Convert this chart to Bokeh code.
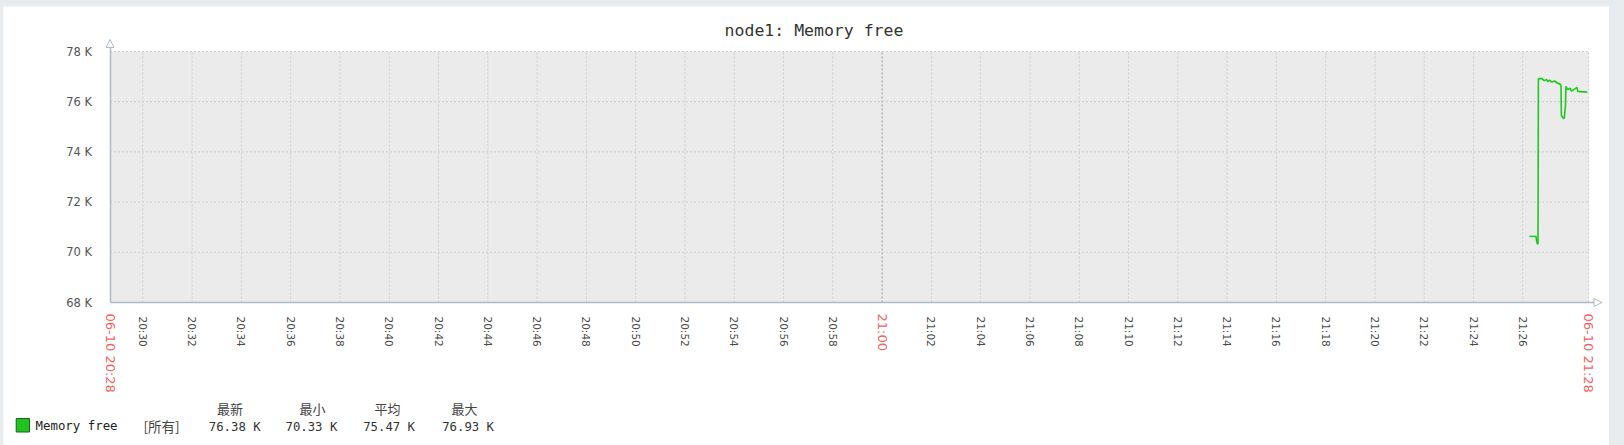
import math
from bokeh.plotting import figure
from bokeh.models import (Range1d, FixedTicker, Label, Arrow, NormalHead,
                          BoxAnnotation, LinearAxis)
from bokeh.embed import file_html
from bokeh.resources import INLINE

# ---------------- data ----------------
sample_times = ["21:26:16", "21:26:32", "21:26:35", "21:26:37", "21:26:38",
                "21:26:46", "21:26:52", "21:26:58", "21:27:01", "21:27:05",
                "21:27:11", "21:27:16", "21:27:20", "21:27:23", "21:27:30",
                "21:27:33", "21:27:34", "21:27:38", "21:27:41", "21:27:44",
                "21:27:45", "21:27:48", "21:27:51", "21:27:55", "21:27:58",
                "21:28:02", "21:28:07", "21:28:12", "21:28:14", "21:28:37"]
memory_free_k = [70.64, 70.63, 70.35, 70.33, 76.91,
                 76.93, 76.84, 76.88, 76.80, 76.86,
                 76.78, 76.82, 76.80, 76.75, 76.71,
                 76.65, 75.45, 75.36, 75.33, 75.85,
                 76.61, 76.51, 76.49, 76.54, 76.43,
                 76.46, 76.51, 76.57, 76.41, 76.38]

y_ticks = [68, 70, 72, 74, 76, 78]
x_tick_labels = ["20:30", "20:32", "20:34", "20:36", "20:38", "20:40", "20:42",
                 "20:44", "20:46", "20:48", "20:50", "20:52", "20:54", "20:56",
                 "20:58", "21:00", "21:02", "21:04", "21:06", "21:08", "21:10",
                 "21:12", "21:14", "21:16", "21:18", "21:20", "21:22", "21:24",
                 "21:26"]
start_time = "20:28:40"
end_time = "21:28:40"
red_tick_times = ["20:28:40", "21:00:00", "21:28:40"]
red_tick_labels = ["06-10 20:28", "21:00", "06-10 21:28"]

title_text = "node1: Memory free"
series_name = "Memory free"
legend_scope = "[所有]"
legend_headers = ["最新", "最小", "平均", "最大"]
legend_values = ["76.38 K", "70.33 K", "75.47 K", "76.93 K"]


def to_min(t):
    parts = [int(v) for v in t.split(":")]
    h, m = parts[0], parts[1]
    s = parts[2] if len(parts) > 2 else 0
    return (h - 20) * 60 + m + s / 60.0


xs = [to_min(t) for t in sample_times]
x0, x1 = to_min(start_time), to_min(end_time)
y0, y1 = y_ticks[0], y_ticks[-1]
tick_pos = [to_min(t) for t in x_tick_labels]
mid_time = to_min("21:00")

# ---------------- geometry ----------------
PAGE_X, PAGE_Y = 3, 6          # white panel offset on the page
W, H = 1606, 439
# page pixels of start / end time and of 68 K / 78 K
X_START, X_END = 109.5, 1588.0
Y_BOTTOM, Y_TOP = 302.0, 51.0
PX0, PX1 = X_START - PAGE_X, X_END - PAGE_X
PY0, PY1 = Y_BOTTOM - PAGE_Y, Y_TOP - PAGE_Y
sx = (PX1 - PX0) / (x1 - x0)
sy = (PY0 - PY1) / (y1 - y0)
xr = Range1d(x0 - PX0 / sx, x0 + (W - PX0) / sx)
yr = Range1d(y0 - (H - PY0) / sy, y1 + PY1 / sy)


def px_x(X):
    return x0 + (X - PAGE_X - PX0) / sx


def py_y(Y):
    return y0 + (PY0 - (Y - PAGE_Y)) / sy


AXIS = "#aebbc4"
GRID = "#c6ced4"

p = figure(width=W, height=H, min_border=0, x_range=xr, y_range=yr,
           x_axis_location=None, output_backend="svg", toolbar_location=None,
           background_fill_color="white", border_fill_color="white")
p.outline_line_color = None
p.xgrid.visible = False
p.ygrid.visible = False

# plot area background
p.add_layout(BoxAnnotation(left=x0, right=x1, bottom=y0, top=y1,
                           fill_color="#ebebeb", fill_alpha=1,
                           line_color=None, level="underlay"))

# grid lines (dashed)
gx = [t for t in tick_pos if t != mid_time] + [x1]
p.segment(x0=gx, y0=[y0] * len(gx), x1=gx, y1=[y1] * len(gx),
          line_color=GRID, line_dash="2 2", line_width=1)
p.segment(x0=[mid_time], y0=[y0], x1=[mid_time], y1=[y1],
          line_color="#8f999f", line_dash="2 2", line_width=1)
gy = y_ticks[1:]
p.segment(x0=[x0] * len(gy), y0=gy, x1=[x1] * len(gy), y1=gy,
          line_color=GRID, line_dash="2 2", line_width=1)

# data line
p.line(xs, memory_free_k, line_color="#1ec81e", line_width=1.6)

# y axis
yax = p.yaxis[0]
yax.fixed_location = x0
yax.bounds = (y0, py_y(45))
yax.ticker = FixedTicker(ticks=y_ticks)
yax.major_label_overrides = {v: f"{v} K" for v in y_ticks}
yax.major_tick_line_color = None
yax.minor_tick_line_color = None
yax.axis_line_color = AXIS
yax.axis_line_width = 1.5
yax.major_label_standoff = 12
yax.major_label_text_font = "DejaVu Sans"
yax.major_label_text_font_size = "11.5px"
yax.major_label_text_color = "#555555"

# x axis: grey time labels
gax = LinearAxis(fixed_location=y0, ticker=FixedTicker(ticks=tick_pos))
gax.major_label_overrides = {pos: ("" if pos == mid_time else lab)
                             for pos, lab in zip(tick_pos, x_tick_labels)}
gax.major_label_orientation = "vertical"
gax.major_tick_line_color = None
gax.minor_tick_line_color = None
gax.axis_line_color = None
gax.major_label_standoff = 8
gax.major_label_text_font = "DejaVu Sans"
gax.major_label_text_font_size = "10.5px"
gax.major_label_text_color = "#4a4a4a"
p.add_layout(gax, "below")

# x axis: red period labels and axis line
red_pos = [to_min(t) for t in red_tick_times]
rax = LinearAxis(fixed_location=y0, ticker=FixedTicker(ticks=red_pos),
                 bounds=(x0, px_x(1594)))
rax.major_label_overrides = {pos: lab for pos, lab in zip(red_pos, red_tick_labels)}
rax.major_label_orientation = "vertical"
rax.major_tick_line_color = None
rax.minor_tick_line_color = None
rax.axis_line_color = AXIS
rax.axis_line_width = 1.5
rax.major_label_standoff = 5
rax.major_label_text_font = "DejaVu Sans"
rax.major_label_text_font_size = "13px"
rax.major_label_text_color = "#f06262"
p.add_layout(rax, "below")

# axis arrows
p.add_layout(Arrow(x_start=x0, y_start=py_y(46), x_end=x0, y_end=py_y(39),
                   line_color=AXIS, line_width=1.5,
                   end=NormalHead(size=8, fill_color="white",
                                  line_color=AXIS, line_width=1)))
p.add_layout(Arrow(x_start=px_x(1592), y_start=y0, x_end=px_x(1601.5), y_end=y0,
                   line_color=AXIS, line_width=1.5,
                   end=NormalHead(size=8, fill_color="white",
                                  line_color=AXIS, line_width=1)))

# title
p.add_layout(Label(x=px_x(813.5), y=py_y(30), text=title_text,
                   text_align="center", text_baseline="middle",
                   text_font="DejaVu Sans Mono", text_font_size="16.5px",
                   text_color="#333333"))

# legend
p.add_layout(BoxAnnotation(left=px_x(15.7), right=px_x(29), bottom=py_y(431.5),
                           top=py_y(418), fill_color="#21c321", fill_alpha=1,
                           line_color="#1f5f1f", line_width=1, line_alpha=1))
p.add_layout(Label(x=px_x(35), y=py_y(425), text=series_name,
                   text_align="left", text_baseline="middle",
                   text_font="DejaVu Sans Mono", text_font_size="12.4px",
                   text_color="#222222"))
p.add_layout(Label(x=px_x(143), y=py_y(425), text=legend_scope,
                   text_align="left", text_baseline="middle",
                   text_font="Noto Sans CJK SC", text_font_size="13.5px",
                   text_color="#444444"))
header_cx = [229.5, 312, 387, 464]
value_left = [208.3, 285, 362.7, 441.7]
for cx, h in zip(header_cx, legend_headers):
    p.add_layout(Label(x=px_x(cx), y=py_y(408), text=h,
                       text_align="center", text_baseline="middle",
                       text_font="Noto Sans CJK SC", text_font_size="13px",
                       text_color="#444444"))
for lx, v in zip(value_left, legend_values):
    p.add_layout(Label(x=px_x(lx), y=py_y(426), text=v,
                       text_align="left", text_baseline="middle",
                       text_font="DejaVu Sans Mono", text_font_size="12.3px",
                       text_color="#333333"))

html = file_html(p, INLINE)
html = html.replace("<head>",
                    "<head><style>body{background:#e9ecef;"
                    "padding:6px 0 0 3px !important;}</style>", 1)
open("out.html", "w").write(html)
